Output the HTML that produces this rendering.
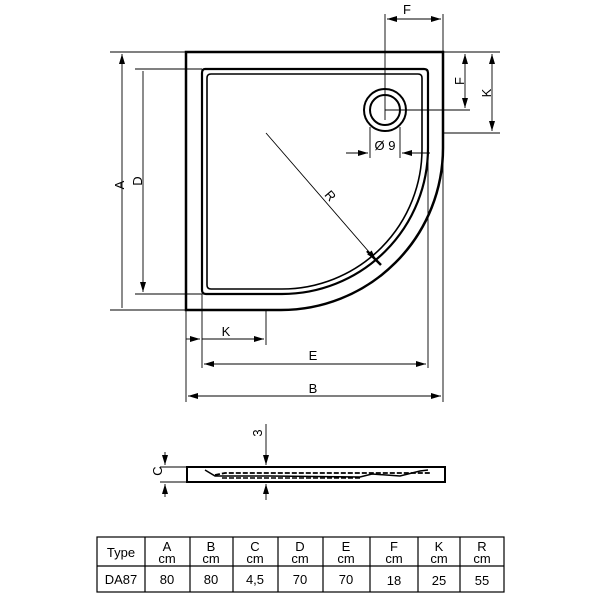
<!DOCTYPE html>
<html><head><style>body{margin:0;background:#fff}svg{display:block}text{font-family:"Liberation Sans",Arial,sans-serif;fill:#000}</style></head>
<body>
<svg width="601" height="601" viewBox="0 0 601 601" xmlns="http://www.w3.org/2000/svg">
<defs>
<marker id="a" viewBox="0 0 10 6" refX="10" refY="3" markerWidth="11" markerHeight="6" orient="auto-start-reverse" markerUnits="userSpaceOnUse"><path d="M0,0L10,3L0,6z" fill="#000"/></marker>
</defs>
<g fill="none" stroke="#000">
<path d="M186,52H443V148A162,162 0 0 1 281,310H186Z" stroke-width="2.5"/>
<path d="M205,69H424Q428,69 428,73V148A146,146 0 0 1 282,294H206Q202,294 202,290V73Q202,69 205,69Z" stroke-width="2.2"/>
<path d="M211,74H418Q422,74 422,78V148A140,140 0 0 1 282,289H211Q207,289 207,285V78Q207,74 211,74Z" stroke-width="1.6"/>
<circle cx="385" cy="110" r="21" stroke-width="2"/>
<circle cx="385" cy="110" r="15" stroke-width="2"/>
<path d="M367,251L381,265" stroke-width="2.5"/>
<g stroke-width="0.9">
<path d="M110,52H186M110,310H186M135,69H202M135,294H202"/>
<path d="M122,54V308M143,71V292" marker-start="url(#a)" marker-end="url(#a)"/>
<path d="M385,14V120M443,14V52"/>
<path d="M387,19H441" marker-start="url(#a)" marker-end="url(#a)"/>
<path d="M443,52H500M385,110H470M443,133H500"/>
<path d="M465,54V108" marker-start="url(#a)" marker-end="url(#a)"/>
<path d="M492,54V131" marker-start="url(#a)" marker-end="url(#a)"/>
<path d="M370,127V158M400,127V158"/>
<path d="M346,153H368" marker-end="url(#a)"/>
<path d="M430,153H402" marker-end="url(#a)"/>
<path d="M266,133L376,260" marker-end="url(#a)"/>
<path d="M186,310V402M202,294V368M266,310V345M428,155V368M443,148V402"/>
<path d="M186,339H200" marker-end="url(#a)"/>
<path d="M202,339H264" marker-end="url(#a)"/>
<path d="M204,364H426" marker-start="url(#a)" marker-end="url(#a)"/>
<path d="M188,396H441" marker-start="url(#a)" marker-end="url(#a)"/>
<path d="M160,467H186M160,482H186"/>
<path d="M165,452V465" marker-end="url(#a)"/>
<path d="M165,497V484" marker-end="url(#a)"/>
<path d="M266,424V465" marker-end="url(#a)"/>
<path d="M266,500V484" marker-end="url(#a)"/>
</g>
<rect x="187" y="467" width="258" height="15" stroke-width="2"/>
<path d="M205,470L215,476H270L360,477L372,474L400,476L420,471L428,470" stroke-width="1.5"/>
<path d="M215,475L225,473H430" stroke-width="1.8" stroke-dasharray="5,2"/>
<path d="M222,478H360" stroke-width="1.5" stroke-dasharray="5,2"/>
<g stroke-width="1.2">
<rect x="97" y="537" width="407" height="55"/>
<path d="M97,566H504M145,537V592M190,537V592M233,537V592M278,537V592M323,537V592M370,537V592M418,537V592M460,537V592"/>
</g>
</g>
<g font-size="13" text-anchor="middle">
<text x="407" y="14">F</text>
<text x="115" y="186" transform="rotate(-90 119 181)">A</text>
<text x="137" y="186" transform="rotate(-90 137 181)">D</text>
<text x="460" y="85" transform="rotate(-90 460 81)">F</text>
<text x="487" y="97" transform="rotate(-90 487 93)">K</text>
<text x="385" y="150">Ø 9</text>
<text x="330" y="200" transform="rotate(49 330 196)">R</text>
<text x="226" y="336">K</text>
<text x="313" y="360">E</text>
<text x="313" y="393">B</text>
<text x="162" y="479" transform="rotate(-90 158 475)">C</text>
<text x="262" y="441" transform="rotate(-90 258 437)">3</text>
<text x="121" y="557">Type</text>
<text x="121" y="584">DA87</text>
</g>
<g font-size="13" text-anchor="middle">
<text x="167" y="551">A</text><text x="167" y="563">cm</text><text x="167" y="584">80</text>
<text x="211" y="551">B</text><text x="211" y="563">cm</text><text x="211" y="584">80</text>
<text x="255" y="551">C</text><text x="255" y="563">cm</text><text x="255" y="584">4,5</text>
<text x="300" y="551">D</text><text x="300" y="563">cm</text><text x="300" y="584">70</text>
<text x="346" y="551">E</text><text x="346" y="563">cm</text><text x="346" y="584">70</text>
<text x="394" y="551">F</text><text x="394" y="563">cm</text><text x="394" y="585">18</text>
<text x="439" y="551">K</text><text x="439" y="563">cm</text><text x="439" y="585">25</text>
<text x="482" y="551">R</text><text x="482" y="563">cm</text><text x="482" y="585">55</text>
</g>
</svg>
</body></html>
